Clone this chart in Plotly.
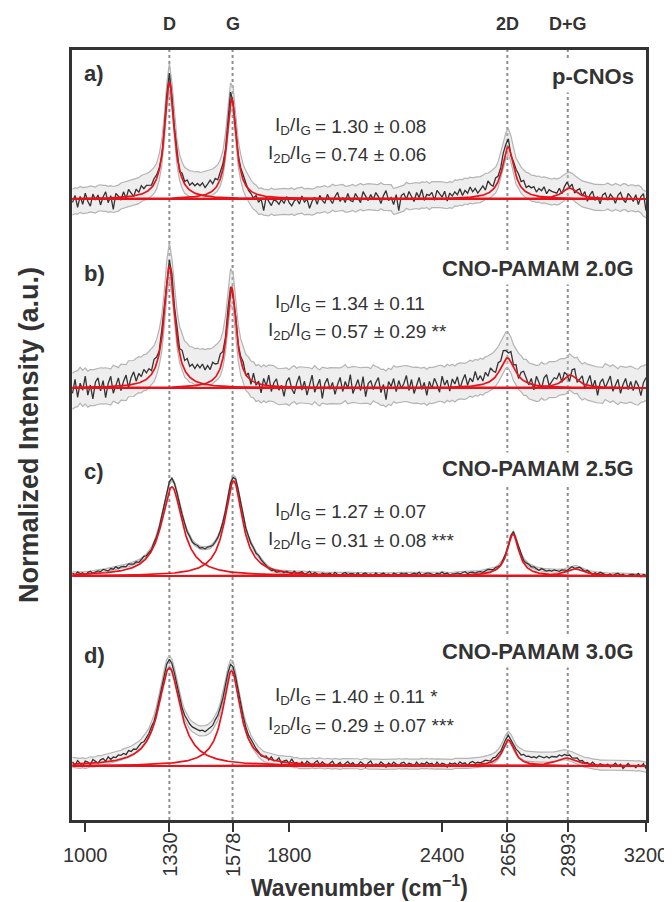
import numpy as np
import plotly.graph_objects as go

# ---------------- data ----------------
X_START, X_STEP, X_COUNT = 950, 10, 226          # wavenumber sampling of the spectra (cm^-1)

PANEL_LETTERS = ["a)", "b)", "c)", "d)"]
SAMPLE_NAMES = ["p-CNOs", "CNO-PAMAM 2.0G", "CNO-PAMAM 2.5G", "CNO-PAMAM 3.0G"]
RATIO_D = ["1.30 ± 0.08", "1.34 ± 0.11", "1.27 ± 0.07", "1.40 ± 0.11 *"]
RATIO_2D = ["0.74 ± 0.06", "0.57 ± 0.29 **", "0.31 ± 0.08 ***", "0.29 ± 0.07 ***"]

BAND_NAMES = ["D", "G", "2D", "D+G"]
BAND_POSITIONS = [1330, 1578, 2656, 2893]
MAJOR_TICKS = [1000, 1800, 2400, 3200]

# vertical offset of each stacked spectrum (normalized units)
OFFSETS = [6.21, 4.32, 2.44, 0.54]

# Lorentzian fit components: D, G, 2D, D+G
POS_A = [1330, 1574, 2659, 2900]
HEIGHT_A = [1.17, 1.01, 0.52, 0.11]
HWHM_A = [23, 22, 28, 35]

POS_B = [1330, 1574, 2656, 2903]
HEIGHT_B = [1.22, 1.01, 0.30, 0.13]
HWHM_B = [25, 22, 36, 35]

POS_C = [1340, 1582, 2678, 2922]
HEIGHT_C = [0.89, 0.95, 0.42, 0.07]
HWHM_C = [50, 42, 28, 45]

POS_D = [1330, 1574, 2660, 2886]
HEIGHT_D = [0.98, 0.95, 0.26, 0.08]
HWHM_D = [52, 42, 28, 50]

# standard deviation of the replicate spectra (grey band half-width)
STD = [0.13, 0.18, 0.015, 0.05]

# measured minus fit (x0.01), one value per 10 cm^-1 from 950 to 3200
RES_A = [
    -4, 3, -9, 2, -6, 5, -3, -8, 4, -2,
    3, -7, 1, 6, -5, 2, -12, 4, 1, -3,
    5, -2, 7, 3, -1, 6, 2, 8, 4, 6,
    4, 2, 5, 3, 1, -2, 3, 5, 8, 4,
    3, 2, -3, 4, 1, 6, 3, 7, 5, 8,
    6, 9, 4, 7, 10, 5, 8, 3, 6, 4,
    2, 5, 8, 2, 4, 1, 3, 5, 2, -2,
    -3, -6, -2, -8, -4, -15, -1, -5, -9, -3,
    -4, -7, -2, -6, 1, -5, -8, -3, -1, -6,
    2, -4, -1, -10, -3, 1, -6, 3, -2, -5,
    4, -1, -5, 2, 6, -3, 1, -4, 5, -2,
    -3, 5, 1, -4, 7, 2, -2, 4, -1, 6,
    2, -5, 3, 8, -2, 1, -6, 4, -12, 3,
    5, -1, 7, 2, -3, 6, 1, 9, -2, 4,
    3, 6, -2, 8, 4, 1, 7, -3, 5, 2,
    6, 3, 9, 2, 7, 4, 10, 5, 8, 3,
    6, 9, 4, 12, 7, 3, 8, 5, 6, 10,
    7, 8, -2, 4, 6, 8, 5, 9, 4, 7,
    6, 8, 3, 7, 5, 9, 2, 6, 4, 3,
    1, 5, -2, 3, 6, 0, 4, -3, 2, 5,
    -1, 4, -5, 2, 6, -3, 1, -6, 3, 5,
    -2, 4, 1, -5, 3, 6, -1, -4, 5, 2,
    -3, 4, -6, 2, 5, -12,
]
RES_B = [
    -6, 8, -10, 4, -3, 11, -8, 2, -12, 5,
    9, -4, 6, -11, 3, 10, -7, 1, 8, -5,
    4, 10, -3, 7, 12, 2, 9, 5, 11, 6,
    8, 3, 10, 6, 2, 7, 4, -2, 5, 8,
    6, 10, 4, 12, 8, 14, 9, 13, 10, 15,
    12, 16, 10, 14, 9, 15, 11, 8, 12, 5,
    3, 6, 2, -4, 5, 1, 3, 6, -2, 4,
    -5, 8, -3, 2, -9, 6, -1, 10, -6, 3,
    7, -4, 1, -10, 5, 9, -2, -7, 4, 11,
    -3, 6, -8, 2, 12, -5, 1, 8, -11, 4,
    9, -2, 5, -7, 3, 10, -4, 6, -1, 13,
    -6, 2, 8, -3, 11, -9, 4, 7, -2, 5,
    10, -5, 3, -12, 6, 1, 9, -4, 7, -1,
    4, 12, -3, 8, -6, 2, 10, -2, 5, -8,
    6, -1, 9, 3, -5, 11, 2, 7, -4, 8,
    3, 10, -2, 6, 12, 1, 8, 4, 14, 5,
    9, 3, 11, 6, 13, 8, 4, 10, 7, 12,
    8, 5, 10, 2, 7, -3, 6, 9, 4, -2,
    5, -6, 8, 2, -4, 7, 10, -1, 3, 6,
    4, 9, -2, 6, 1, -7, 5, 8, -3, 2,
    7, -5, 3, 10, -2, 6, -9, 4, 8, -1,
    5, 11, -4, 2, 8, -6, 3, 9, -2, 6,
    -3, 7, 2, -8, 5, 10,
]
RES_C = [
    1, -1, 2, 0, 1, -2, 1, 2, 0, 1,
    2, 1, 3, 2, 1, 3, 2, 4, 2, 3,
    3, 2, 4, 3, 2, 3, 1, 2, 3, 1,
    1, 0, 2, 1, 2, 3, 4, 5, 6, 6,
    4, 3, 2, 3, 4, 3, 4, 3, 4, 5,
    4, 5, 4, 5, 4, 3, 3, 2, 2, 1,
    0, 1, 1, 0, 2, 3, 4, 3, 4, 5,
    4, 5, 3, 4, 2, 1, -1, -2, -3, -2,
    -3, -2, -1, -2, 0, -1, -2, 1, -1, 0,
    1, -1, 0, 2, -1, 1, 0, -2, 1, 0,
    0, 1, -1, 2, 0, -1, 1, 2, 0, 1,
    1, 0, 2, -1, 1, 2, 0, 1, -1, 2,
    0, 1, 2, 0, 1, -1, 2, 1, 0, 2,
    1, 2, 0, 1, 2, 1, 3, 0, 1, 2,
    2, 1, 0, 2, 1, 3, 1, 2, 0, 1,
    1, 2, 1, 2, 3, 1, 2, 2, 1, 2,
    2, 1, 2, 3, 2, 1, 2, 1, 0, 1,
    1, 0, 1, 2, 1, 2, 3, 2, 3, 4,
    3, 4, 3, 2, 4, 3, 2, 3, 2, 3,
    2, 1, 2, 1, 0, 1, 2, 0, 1, 2,
    1, 0, 2, 1, -1, 1, 0, 2, 1, 0,
    0, 1, -1, 1, 2, 0, 1, -1, 0, 1,
    1, 0, 2, -1, 1, 0,
]
RES_D = [
    2, -2, 3, 0, -3, 2, 1, -2, 3, 1,
    -1, 2, 3, 0, 4, 1, 3, 2, 4, 3,
    4, 2, 5, 3, 4, 2, 3, 4, 2, 3,
    2, 3, 1, 2, 3, 4, 3, 5, 6, 5,
    4, 3, 2, 3, 4, 6, 7, 8, 9, 10,
    10, 11, 9, 10, 11, 9, 10, 8, 7, 5,
    4, 3, 3, 2, 2, 3, 2, 3, 2, 1,
    2, 1, 0, -1, -3, -2, 0, -3, 1, -2,
    -1, 2, -3, 0, 1, -2, 3, -1, 0, -3,
    1, -2, 2, 0, -3, 1, 3, -1, 2, 0,
    -2, 1, 3, -1, 0, 2, -2, 1, 3, 0,
    2, -1, 0, 3, 1, -2, 2, 4, -1, 1,
    0, 3, 1, -2, 2, 0, 3, 1, -1, 2,
    3, 0, 2, 1, -1, 3, 0, 2, 1, 3,
    1, 2, -1, 3, 0, 2, 1, -2, 2, 1,
    2, 0, 3, 1, 2, -1, 2, 3, 1, 2,
    1, 2, 3, 2, 1, 3, 2, 3, 2, 3,
    3, 4, 2, 3, 4, 5, 4, 6, 5, 6,
    5, 6, 5, 7, 6, 5, 6, 4, 5, 4,
    3, 4, 2, 3, 2, 3, 1, 2, 3, 1,
    2, 0, 1, -1, 2, 0, -2, 1, 0, -1,
    1, -2, 0, 2, -1, 1, -3, 0, 2, -1,
    0, -2, 1, -1, 2, -3,
]

# text placement (y in plot units, x in cm^-1)
LETTER_Y = [7.47, 5.47, 3.49, 1.65]
NAME_Y = [7.44, 5.52, 3.52, 1.69]
RATIO1_Y = [6.94, 5.17, 3.09, 1.24]
RATIO2_Y = [6.66, 4.89, 2.80, 0.95]

# ---------------- styling ----------------
FONT = "Liberation Sans, Arial, Helvetica, sans-serif"
DARK = "#333333"
RED = "#e8121a"
GREY_LINE = "#b4b4b4"
GREY_FILL = "rgba(205,205,205,0.35)"
X_RANGE = [948, 3200]
Y_RANGE = [0, 7.7]

x = X_START + X_STEP * np.arange(X_COUNT)


def lorentz(xv, x0, h, g):
    return h * g ** 2 / ((xv - x0) ** 2 + g ** 2)


def smooth(v, n=5):
    p = np.pad(v, n // 2, mode="edge")
    return np.convolve(p, np.ones(n) / n, mode="valid")


panels = [
    (POS_A, HEIGHT_A, HWHM_A, RES_A),
    (POS_B, HEIGHT_B, HWHM_B, RES_B),
    (POS_C, HEIGHT_C, HWHM_C, RES_C),
    (POS_D, HEIGHT_D, HWHM_D, RES_D),
]

fig = go.Figure()

for k, (pos, hts, hw, res) in enumerate(panels):
    off = OFFSETS[k]
    comps = [lorentz(x, p, h, g) for p, h, g in zip(pos, hts, hw)]
    fit = np.sum(comps, axis=0)
    r = np.array(res) / 100.0
    meas = off + fit + r
    centre = off + fit + smooth(r)
    upper = centre + STD[k]
    lower = centre - STD[k]

    fig.add_trace(go.Scatter(x=x, y=upper, mode="lines",
                             line=dict(color=GREY_LINE, width=1.2),
                             hoverinfo="skip", showlegend=False))
    fig.add_trace(go.Scatter(x=x, y=lower, mode="lines", fill="tonexty",
                             fillcolor=GREY_FILL,
                             line=dict(color=GREY_LINE, width=1.2),
                             hoverinfo="skip", showlegend=False))
    fig.add_trace(go.Scatter(x=x, y=meas, mode="lines",
                             line=dict(color=DARK, width=1.3),
                             showlegend=False))
    # fitted baseline
    fig.add_trace(go.Scatter(x=[x[0], x[-1]], y=[off, off], mode="lines",
                             line=dict(color=RED, width=2.2), showlegend=False))
    xf = np.linspace(X_START, x[-1], 901)
    for p, h, g in zip(pos, hts, hw):
        fig.add_trace(go.Scatter(x=xf, y=off + lorentz(xf, p, h, g), mode="lines",
                                 line=dict(color=RED, width=1.7), showlegend=False))

# dotted reference lines
for p in BAND_POSITIONS:
    fig.add_shape(type="line", x0=p, x1=p, y0=0, y1=1, xref="x", yref="paper",
                  line=dict(color="#8f8f8f", width=2, dash="dot"), layer="below")

ann = []
# band names above the frame
for name, p in zip(BAND_NAMES, BAND_POSITIONS):
    ann.append(dict(x=p, y=1, xref="x", yref="paper", yanchor="bottom", yshift=14,
                    text=f"<b>{name}</b>", showarrow=False,
                    font=dict(family=FONT, size=18, color=DARK)))

# rotated tick labels
for p in BAND_POSITIONS:
    ann.append(dict(x=p, y=0, xref="x", yref="paper", yanchor="top", yshift=-10,
                    text=str(p), textangle=-90, showarrow=False,
                    font=dict(family=FONT, size=20, color=DARK)))

for k in range(4):
    ann.append(dict(x=988, y=LETTER_Y[k], xref="x", yref="y", xanchor="left",
                    text=f"<b>{PANEL_LETTERS[k]}</b>", showarrow=False,
                    font=dict(family=FONT, size=22, color=DARK)))
    ann.append(dict(x=3168, y=NAME_Y[k], xref="x", yref="y", xanchor="right",
                    text=f"<b>{SAMPLE_NAMES[k]}</b>", showarrow=False,
                    bgcolor="white", borderpad=3,
                    font=dict(family=FONT, size=22, color=DARK)))
    ann.append(dict(x=1893, y=RATIO1_Y[k], xref="x", yref="y", xanchor="right",
                    text="I<sub>D</sub>/I<sub>G</sub>", showarrow=False,
                    font=dict(family=FONT, size=19, color=DARK)))
    ann.append(dict(x=1893, y=RATIO1_Y[k], xref="x", yref="y", xanchor="left",
                    text="= " + RATIO_D[k], showarrow=False,
                    font=dict(family=FONT, size=19, color=DARK)))
    ann.append(dict(x=1893, y=RATIO2_Y[k], xref="x", yref="y", xanchor="right",
                    text="I<sub>2D</sub>/I<sub>G</sub>", showarrow=False,
                    font=dict(family=FONT, size=19, color=DARK)))
    ann.append(dict(x=1893, y=RATIO2_Y[k], xref="x", yref="y", xanchor="left",
                    text="= " + RATIO_2D[k], showarrow=False,
                    font=dict(family=FONT, size=19, color=DARK)))

# axis titles
ann.append(dict(x=0.5, y=0, xref="paper", yref="paper", yanchor="middle", yshift=-66,
                text="<b>Wavenumber (cm<sup>−1</sup>)</b>", showarrow=False,
                font=dict(family=FONT, size=23, color=DARK)))
ann.append(dict(x=0, y=0.5, xref="paper", yref="paper", xanchor="center", xshift=-43,
                text="<b>Normalized Intensity (a.u.)</b>", textangle=-90, showarrow=False,
                font=dict(family=FONT, size=27, color=DARK)))

tickvals = sorted(MAJOR_TICKS + BAND_POSITIONS)
ticktext = [str(v) if v in MAJOR_TICKS else "" for v in tickvals]

fig.update_layout(
    width=672, height=902,
    margin=dict(l=64, r=24, t=42, b=90),
    paper_bgcolor="white", plot_bgcolor="white",
    font=dict(family=FONT, color=DARK, size=19),
    annotations=ann,
    xaxis=dict(range=X_RANGE, showgrid=False, zeroline=False,
               showline=True, mirror=True, linecolor=DARK, linewidth=3,
               ticks="outside", ticklen=9, tickwidth=2, tickcolor=DARK,
               tickvals=tickvals, ticktext=ticktext, ticklabelstandoff=6,
               ticklabeloverflow="allow",
               tickfont=dict(family=FONT, size=20, color=DARK)),
    yaxis=dict(range=Y_RANGE, showgrid=False, zeroline=False,
               showline=True, mirror=True, linecolor=DARK, linewidth=3,
               showticklabels=False, ticks=""),
)

fig.write_html("out.html")
